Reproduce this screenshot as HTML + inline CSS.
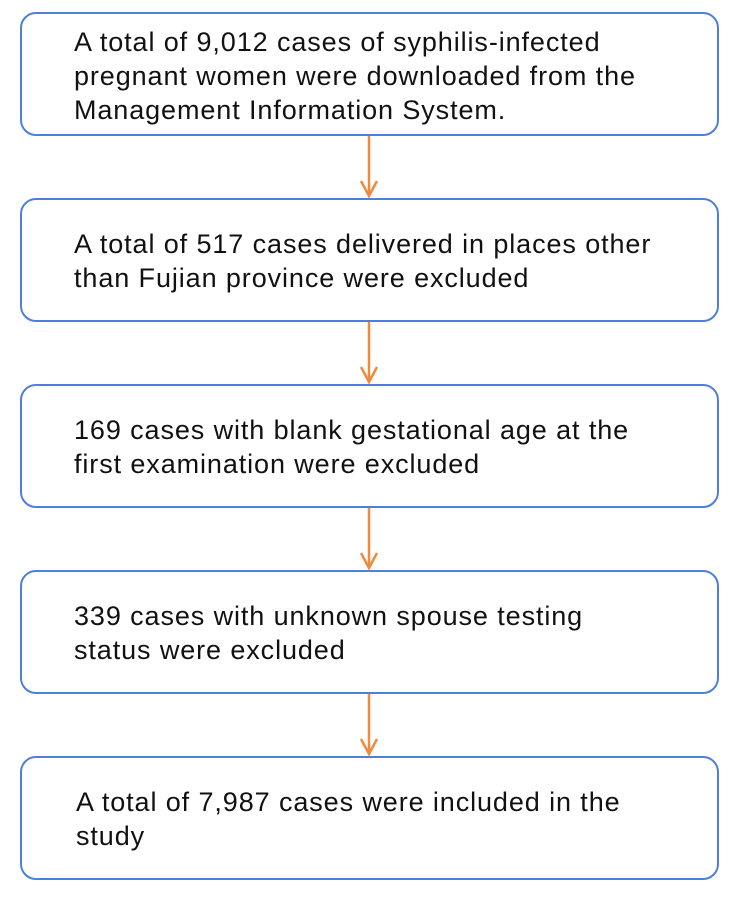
<!DOCTYPE html>
<html><head><style>
body{margin:0;width:750px;height:903px;background:#fff;position:relative;font-family:"Liberation Sans",sans-serif;}
.b{position:absolute;left:20px;width:695px;height:120px;border:2px solid #4f7fdc;border-radius:16px;box-sizing:content-box;}
.t{position:absolute;left:74px;font-size:27px;line-height:34px;letter-spacing:0.9px;color:#111;white-space:nowrap;}
</style></head><body>
<div class="b" style="top:12px"></div>
<div class="b" style="top:198px"></div>
<div class="b" style="top:384px"></div>
<div class="b" style="top:570px"></div>
<div class="b" style="top:756px"></div>
<div class="t" style="top:25px">A total of 9,012 cases of syphilis-infected<br>pregnant women were downloaded from the<br>Management Information System.</div>
<div class="t" style="top:227px">A total of 517 cases delivered in places other<br>than Fujian province were excluded</div>
<div class="t" style="top:413px">169 cases with blank gestational age at the<br>first examination were excluded</div>
<div class="t" style="top:599px">339 cases with unknown spouse testing<br>status were excluded</div>
<div class="t" style="top:785px;left:76px">A total of 7,987 cases were included in the<br>study</div>
<svg width="750" height="903" style="position:absolute;left:0;top:0" fill="none" stroke="#f08a3c" stroke-width="2.5">
<g id="a"><path d="M369 136V196M361 181L369 196L377 181"/></g>
<use href="#a" y="186"/><use href="#a" y="372"/><use href="#a" y="558"/>
</svg>
</body></html>
